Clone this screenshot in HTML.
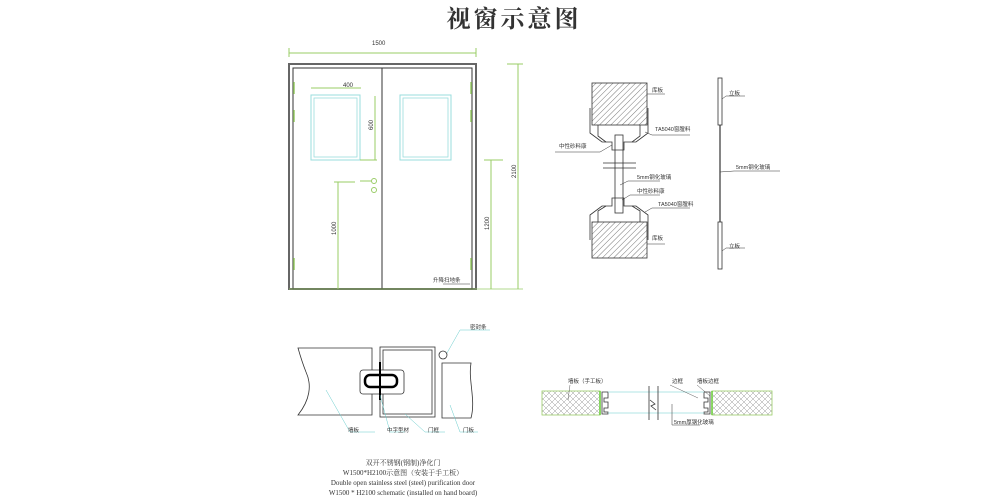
<!DOCTYPE html>
<html><head><meta charset="utf-8"><style>
html,body{margin:0;padding:0;background:#fff;}
svg{display:block}
text{font-family:"Liberation Sans","Noto Sans CJK SC",sans-serif;font-size:6px;fill:#333}
.s{font-family:"Liberation Serif","Noto Serif CJK SC",serif}
</style></head><body>
<svg width="987" height="500" viewBox="0 0 987 500" xmlns="http://www.w3.org/2000/svg">
<defs>
<pattern id="h" width="4" height="4" patternUnits="userSpaceOnUse" patternTransform="rotate(45)"><line x1="0" y1="0" x2="0" y2="4" stroke="#555" stroke-width="0.8"/></pattern>
<pattern id="x" width="6" height="6" patternUnits="userSpaceOnUse"><path d="M0 0L6 6M6 0L0 6" stroke="#999" stroke-width="0.5"/></pattern>
</defs>
<text x="514" y="27" class="s" text-anchor="middle" style="font-size:24px;fill:#333;font-weight:bold;letter-spacing:3px">视窗示意图</text>

<!-- door -->
<g fill="none">
<line x1="289" y1="53" x2="476" y2="53" stroke="#9c6" stroke-width="1"/>
<line x1="289" y1="48" x2="289" y2="57" stroke="#9c6"/><line x1="476" y1="48" x2="476" y2="57" stroke="#9c6"/>
<rect x="289" y="64" width="187" height="225" stroke="#666" stroke-width="2"/>
<rect x="293" y="68" width="179" height="221" stroke="#333" stroke-width="1"/>
<line x1="382" y1="68" x2="382" y2="289" stroke="#333" stroke-width="1"/>
<rect x="311" y="95" width="49" height="65" stroke="#9dd" stroke-width="1"/>
<rect x="314" y="98" width="43" height="59" stroke="#9dd" stroke-width="0.8"/>
<rect x="400" y="95" width="51" height="65" stroke="#9dd" stroke-width="1"/>
<rect x="403" y="98" width="45" height="59" stroke="#9dd" stroke-width="0.8"/>
<line x1="311" y1="88" x2="361" y2="88" stroke="#9c6"/>
<line x1="375" y1="96" x2="375" y2="160" stroke="#9c6"/>
<line x1="360" y1="160" x2="377" y2="160" stroke="#9c6"/>
<line x1="338" y1="182" x2="338" y2="289" stroke="#9c6"/>
<line x1="334" y1="182" x2="355" y2="182" stroke="#9c6"/>
<line x1="491" y1="160" x2="491" y2="289" stroke="#9c6"/>
<line x1="484" y1="160" x2="503" y2="160" stroke="#9c6"/>
<line x1="518" y1="64" x2="518" y2="289" stroke="#9c6"/>
<line x1="507" y1="64" x2="523" y2="64" stroke="#9c6"/>
<line x1="289" y1="289" x2="523" y2="289" stroke="#9c6" stroke-width="0.8"/>
<circle cx="374" cy="181" r="2.5" stroke="#9c6"/><circle cx="374" cy="190" r="2.5" stroke="#9c6"/>
<line x1="360" y1="181" x2="371" y2="181" stroke="#9c6"/>
<g stroke="#9c6" stroke-width="1.5">
<line x1="294" y1="82" x2="294" y2="94"/><line x1="294" y1="110" x2="294" y2="122"/><line x1="294" y1="258" x2="294" y2="270"/>
<line x1="471" y1="82" x2="471" y2="94"/><line x1="471" y1="110" x2="471" y2="122"/><line x1="471" y1="258" x2="471" y2="270"/>
</g>
<line x1="443" y1="284" x2="470" y2="284" stroke="#333" stroke-width="0.5"/>
</g>
<text x="343" y="87">400</text>
<text x="373" y="130" transform="rotate(-90 373 130)">600</text>
<text x="336" y="235" transform="rotate(-90 336 235)">1000</text>
<text x="489" y="230" transform="rotate(-90 489 230)">1200</text>
<text x="516" y="178" transform="rotate(-90 516 178)">2100</text>
<text x="372" y="45">1500</text>
<text x="433" y="282" style="font-size:5.5px">升降扫地条</text>

<!-- glass section -->
<g stroke="#333" stroke-width="0.8" fill="none">
<rect x="592" y="83" width="55" height="42" fill="url(#h)"/>
<rect x="592" y="222" width="55" height="36" fill="url(#h)"/>
<path d="M590 108V133L602 142H612V150H624V142H636L648 133V108"/>
<path d="M590 240V215L602 206H612V198H624V206H636L648 215V240"/>
<path d="M598 125V136L606 142M640 125V136L632 142M598 222V211L606 206M640 222V211L632 206"/>
<rect x="615" y="135" width="8" height="78"/>
<line x1="603" y1="163" x2="636" y2="163"/><line x1="603" y1="168" x2="636" y2="168"/>
<rect x="718" y="78" width="4" height="47"/><rect x="718" y="222" width="4" height="47"/>
<line x1="720" y1="125" x2="720" y2="222" stroke-width="1.2"/>
<g stroke-width="0.5">
<path d="M647 94H665"/><path d="M645 132L652 135H690"/><path d="M555 152H600L612 145"/>
<path d="M620 185L628 181H660"/><path d="M622 200L630 195H660"/><path d="M645 212L652 208H690"/>
<path d="M647 244H665"/><path d="M722 99L726 96H745"/><path d="M722 251L726 248H745"/><path d="M720 172L734 171H780"/>
</g></g>
<text x="652" y="92" style="font-size:5.5px">库板</text>
<text x="655" y="131" style="font-size:5.5px">TA5040窗膛料</text>
<text x="559" y="148" style="font-size:5.5px">中性砂料康</text>
<text x="637" y="179" style="font-size:5.5px">5mm钢化玻璃</text>
<text x="637" y="193" style="font-size:5.5px">中性砂料康</text>
<text x="658" y="206" style="font-size:5.5px">TA5040窗膛料</text>
<text x="652" y="240" style="font-size:5.5px">库板</text>
<text x="729" y="95" style="font-size:5.5px">立板</text>
<text x="736" y="169" style="font-size:5.5px">5mm钢化玻璃</text>
<text x="729" y="248" style="font-size:5.5px">立板</text>

<!-- bottom left detail -->
<g stroke="#333" stroke-width="0.8" fill="none">
<path d="M298 348H372V415H298C310 400 312 385 306 372C302 362 300 355 298 348Z"/>
<rect x="380" y="347" width="55" height="70"/>
<rect x="383" y="350" width="49" height="64"/>
<path d="M442 363H471C468 380 476 400 471 418H442Z"/>
<circle cx="443" cy="355" r="4"/>
<rect x="360" y="370" width="44" height="24" rx="3" fill="#fff"/>
<rect x="365" y="375" width="32" height="12" rx="5" stroke="#000" stroke-width="2.5"/>
<line x1="380" y1="362" x2="380" y2="400" stroke="#000" stroke-width="2"/>
<g stroke="#6cc" stroke-width="0.5">
<path d="M326 390L350 432H375"/><path d="M380 395L390 432H405"/><path d="M405 414L425 432H445"/><path d="M450 405L460 432H478"/><path d="M447 353L460 330H490"/>
</g></g>
<text x="348" y="432" style="font-size:5.5px">墙板</text>
<text x="387" y="432" style="font-size:5.5px">中字型材</text>
<text x="428" y="432" style="font-size:5.5px">门框</text>
<text x="463" y="432" style="font-size:5.5px">门板</text>
<text x="470" y="329" style="font-size:5.5px">密封条</text>
<g text-anchor="middle">
<text x="403" y="465" class="s" style="font-size:7px">双开不锈钢(钢制)净化门</text>
<text x="403" y="475" class="s" style="font-size:7px">W1500*H2100示意图（安装于手工板）</text>
<text x="403" y="485" class="s" style="font-size:7px">Double open stainless steel (steel) purification door</text>
<text x="403" y="495" class="s" style="font-size:7px">W1500 * H2100 schematic (installed on hand board)</text>
</g>

<!-- bottom right detail -->
<g stroke-width="0.8" fill="none">
<rect x="542" y="391" width="58" height="24" fill="url(#x)" stroke="#9c6"/>
<rect x="712" y="391" width="60" height="24" fill="url(#x)" stroke="#9c6"/>
<line x1="600" y1="391" x2="600" y2="415" stroke="#6c3" stroke-width="1.5"/>
<line x1="712" y1="391" x2="712" y2="415" stroke="#6c3" stroke-width="1.5"/>
<path d="M602 392H608V398H604V402H608V408H604V412H608V414H602Z" stroke="#333"/>
<path d="M710 392H704V398H708V402H704V408H708V412H704V414H710Z" stroke="#333"/>
<line x1="608" y1="392" x2="704" y2="392" stroke="#9dd"/><line x1="608" y1="413" x2="704" y2="413" stroke="#9dd"/>
<line x1="649" y1="386" x2="649" y2="420" stroke="#333"/><line x1="658" y1="386" x2="658" y2="420" stroke="#333"/>
<path d="M650 400L655 404L651 406L656 410" stroke="#333"/>
<path d="M570 385L568 400" stroke="#333" stroke-width="0.4"/><path d="M670 385L698 398" stroke="#333" stroke-width="0.4"/><path d="M697 385L710 396" stroke="#333" stroke-width="0.4"/>
<path d="M672 404V425H700" stroke="#333" stroke-width="0.5"/>
</g>
<text x="568" y="383" style="font-size:5.5px">墙板（手工板）</text>
<text x="672" y="383" style="font-size:5.5px">边框</text>
<text x="697" y="383" style="font-size:5.5px">墙板边框</text>
<text x="674" y="424" style="font-size:5.5px">5mm厚钢化玻璃</text>
</svg>
</body></html>
